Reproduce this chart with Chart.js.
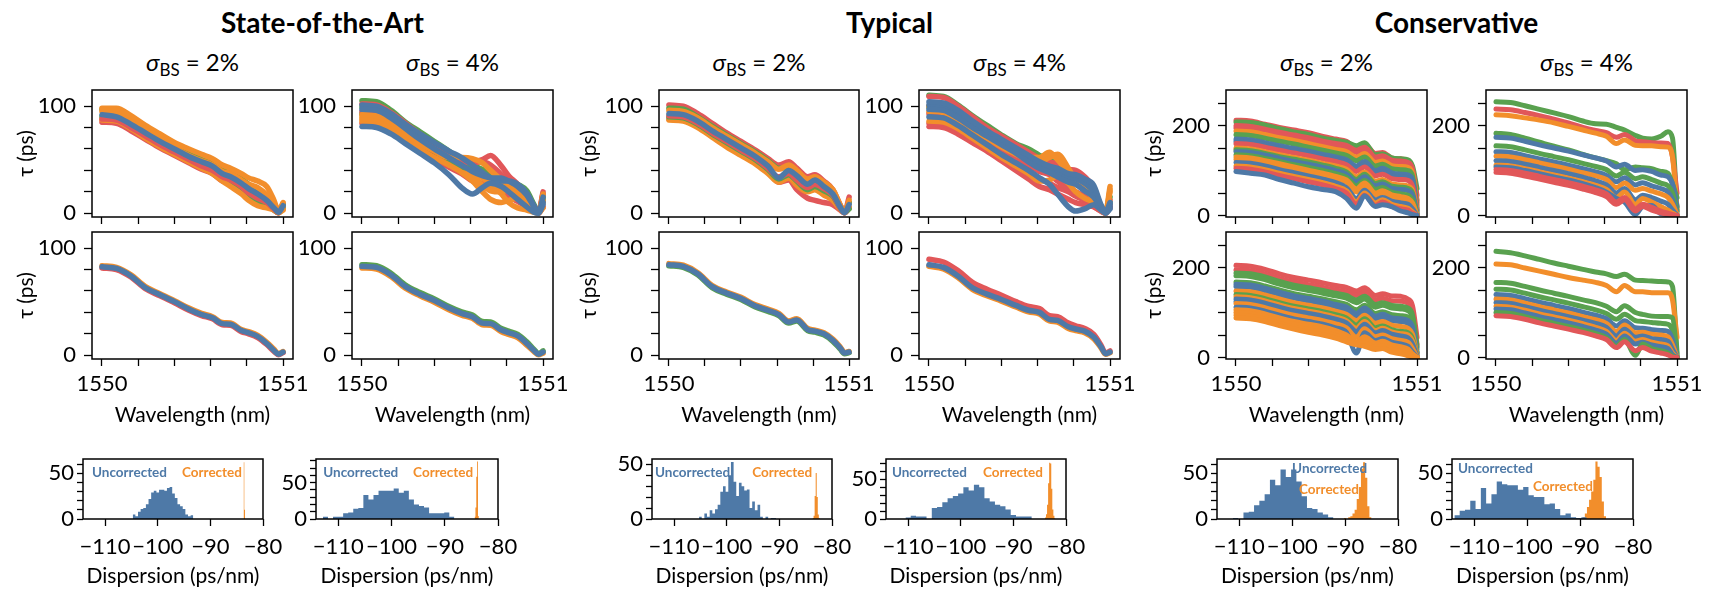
<!DOCTYPE html>
<html><head><meta charset="utf-8">
<script src="https://cdn.jsdelivr.net/npm/chart.js@4.4.1/dist/chart.umd.min.js"></script>
<style>
html,body{margin:0;padding:0;background:#fff;width:1719px;height:589px;overflow:hidden;position:relative;font-family:Lato,"Liberation Sans","DejaVu Sans",sans-serif;color:#000;}
canvas{position:absolute;}
.hdr{position:absolute;width:400px;text-align:center;font-weight:bold;font-size:28px;line-height:34px;top:5px;}
.sig{position:absolute;width:300px;text-align:center;font-size:24px;line-height:30px;top:47px;}
.sig .s{font-size:17px;position:relative;top:5px;}
</style></head><body>
<div class="hdr" style="left:122.5px">State-of-the-Art</div>
<div class="hdr" style="left:689.5px">Typical</div>
<div class="hdr" style="left:1256.5px">Conservative</div>
<div class="sig" style="left:42.5px"><i>σ</i><span class="s">BS</span> = 2%</div>
<div class="sig" style="left:302.5px"><i>σ</i><span class="s">BS</span> = 4%</div>
<div class="sig" style="left:609px"><i>σ</i><span class="s">BS</span> = 2%</div>
<div class="sig" style="left:869.5px"><i>σ</i><span class="s">BS</span> = 4%</div>
<div class="sig" style="left:1176.5px"><i>σ</i><span class="s">BS</span> = 2%</div>
<div class="sig" style="left:1436.5px"><i>σ</i><span class="s">BS</span> = 4%</div>
<script>
// ---------------- DATA ----------------
const wavelength = [1550.00, 1550.08, 1550.16, 1550.24, 1550.32, 1550.40, 1550.48, 1550.55, 1550.61, 1550.665, 1550.71, 1550.77, 1550.81, 1550.86, 1550.91, 1550.95, 1550.975, 1551.00];
const wavelengthTicks = [1550, 1550.2, 1550.4, 1550.6, 1550.8, 1551];
const wavelengthLabels = [1550, 1551];
const tauTicks = [0, 20, 40, 60, 80, 100];
const tauLabels = [0, 100];
const tauTicksCons = [0, 50, 100, 150, 200, 250];
const tauLabelsCons = [0, 200];
const dispTicks = [-110, -100, -90, -80];
const countLabels = [0, 50];

// State-of-the-Art, sigma 2%, uncorrected (listed bottom layer first)
const sota2Unc = [
  [85, 84, 77, 69, 61, 54, 47, 41, 37, 30, 28, 22, 17, 12, 8, 3, 0.5, 6],
  [90, 89, 82, 73, 65, 58, 51, 45, 40, 33, 28, 21, 15, 10, 7, 3, 0.5, 5],
  [87, 86, 79, 70, 62, 55, 48, 42, 37, 30, 25, 18, 12, 7, 5, 3, 0.5, 3],
  [88, 87, 80, 72, 64, 57, 50, 44, 40, 34, 31, 25, 19, 14, 10, 4, 0.5, 9],
  [97, 96, 88, 79, 71, 63, 56, 51, 48, 42, 38, 32, 27, 21, 15, 6, 1, 8],
  [95, 94, 86, 77, 69, 61, 54, 49, 45, 39, 37, 31, 27, 24, 17, 7, 1, 4],
  [98, 98, 91, 82, 74, 66, 60, 55, 51, 45, 42, 37, 33, 30, 25, 12, 2, 10],
  [92, 90, 83, 75, 67, 60, 53, 48, 44, 37, 34, 28, 23, 18, 12, 5, 1, 7]
];
const sota2UncColors = 'RGORGOOB';
const sota2Cor = [
  [81.5, 80, 73, 62, 55.5, 49, 42, 37, 34, 28.5, 28, 22, 20, 16.5, 10, 3.5, 0.5, 2.5],
  [83.5, 82, 75, 64, 57.5, 51, 44, 39, 36, 30.5, 30, 24, 22, 18.5, 12, 5.5, 1.5, 3.5],
  [82.5, 81, 74, 63, 56.5, 50, 43, 38, 35, 29.5, 29, 23, 21, 17.5, 11, 4.5, 1, 3]
];
const sota2CorColors = 'ROB';

// State-of-the-Art, sigma 4%
const sota4Unc = [
  [99, 98, 91, 81, 71, 61, 51, 44, 40, 38, 35, 29, 23, 18, 13, 5, 1, 12],
  [84, 83, 77, 68, 60, 51, 43, 37, 30, 28, 26, 22, 16, 11, 6, 2, 0, 6],
  [86, 85, 78, 69, 61, 53, 46, 41, 38, 33, 27, 18, 10, 5, 3, 1, 0, 10],
  [90, 89, 82, 72, 63, 55, 47, 42, 35, 26, 21, 20, 22, 19, 13, 4, 0.5, 5],
  [105, 104, 96, 85, 76, 67, 58, 50, 45, 41, 40, 35, 31, 27, 21, 8, 1, 16],
  [93, 92, 85, 75, 66, 57, 49, 43, 42, 40, 36, 28, 22, 16, 9, 3, 0.5, 14],
  [88, 87, 80, 70, 60, 52, 45, 38, 30, 20, 13, 10, 12, 14, 10, 3, 0.5, 12],
  [95, 94, 87, 77, 67, 58, 52, 49, 48, 50, 54, 44, 35, 27, 17, 6, 1, 20],
  [102, 101, 94, 84, 74, 65, 56, 49, 47, 48, 45, 36, 28, 22, 14, 5, 1, 18],
  [92, 91, 84, 74, 65, 58, 52, 52, 51, 47, 40, 31, 25, 19, 11, 4, 1, 18],
  [101, 100, 93, 83, 74, 66, 58, 52, 45, 38, 33, 30, 30, 27, 19, 7, 1, 10],
  [97, 96, 89, 79, 69, 60, 52, 45, 39, 35, 33, 33, 30, 25, 17, 6, 0.5, 15],
  [81, 80, 74, 65, 56, 47, 36, 24, 18, 24, 28, 25, 20, 13, 6, 1, 0, 8]
];
const sota4UncColors = 'GROOGGORROBBB';
const sota4Cor = [
  [81.5, 80.5, 73.5, 62.5, 55.5, 49.5, 42.5, 37.5, 34.5, 28.5, 28, 22, 19.5, 16.5, 9.5, 3.5, 0.5, 2],
  [84.5, 83.5, 76.5, 65.5, 58.5, 52.5, 45.5, 40.5, 37.5, 31.5, 31, 25, 22.5, 19.5, 12.5, 5.5, 1.5, 4],
  [83, 82, 75, 64, 57, 51, 44, 39, 36, 30, 29.5, 23.5, 21, 18, 11, 4.5, 1, 3]
];
const sota4CorColors = 'OGB';

// Typical, sigma 2%
const typ2Unc = [
  [88, 87, 81, 72, 64, 56, 48, 39, 29, 31, 22, 14, 12, 10, 8, 3, 0.5, 5],
  [87, 86, 80, 71, 62, 54, 46, 37, 29, 33, 26, 20, 22, 17, 12, 4, 0.5, 6],
  [90, 89, 83, 74, 66, 58, 50, 41, 32, 36, 30, 22, 25, 21, 16, 5, 0.5, 4],
  [91, 90, 84, 75, 67, 59, 51, 42, 34, 37, 31, 24, 27, 23, 17, 5, 0.5, 10],
  [101, 100, 93, 84, 75, 67, 59, 51, 45, 48, 42, 34, 36, 30, 22, 8, 1, 15],
  [98, 97, 90, 81, 73, 65, 57, 49, 42, 43, 38, 29, 31, 27, 21, 7, 1, 10],
  [96, 95, 89, 80, 72, 64, 56, 48, 41, 45, 40, 32, 34, 29, 22, 8, 1, 12],
  [93, 92, 86, 77, 69, 61, 53, 44, 33, 40, 35, 27, 31, 25, 18, 6, 0.5, 8]
];
const typ2UncColors = 'ROGRRGOB';
const typ2Cor = [
  [83.5, 82, 75, 63, 57, 52, 45, 41, 37, 30, 32, 23, 21.5, 19, 13, 6, 1.5, 2.5],
  [85.5, 84, 77, 65, 59, 54, 47, 43, 39, 32, 34, 25, 23.5, 21, 15, 8, 2.5, 3.5],
  [84.5, 83, 76, 64, 58, 53, 46, 42, 38, 31, 33, 24, 22.5, 20, 14, 7, 2, 3]
];
const typ2CorColors = 'GOB';

// Typical, sigma 4%
const typ4Unc = [
  [110, 109, 101, 91, 82, 73, 65, 60, 54, 50, 45, 39, 38, 32, 22, 6, 1, 15],
  [109, 108, 100, 90, 80, 72, 64, 57, 51, 48, 46, 41, 40, 34, 24, 7, 1, 12],
  [81, 80, 74, 66, 58, 49, 40, 32, 25, 22, 18, 13, 10, 8, 6, 2, 0, 5],
  [84, 83, 77, 68, 60, 52, 44, 38, 32, 28, 24, 20, 16, 12, 6, 2, 0, 6],
  [93, 92, 85, 76, 68, 60, 52, 45, 39, 36, 30, 23, 20, 16, 10, 3, 0, 8],
  [99, 98, 91, 82, 73, 65, 57, 50, 45, 42, 38, 33, 30, 25, 18, 5, 0.5, 10],
  [86, 85, 79, 70, 61, 52, 44, 37, 30, 31, 35, 28, 20, 14, 10, 3, 0, 22],
  [95, 94, 87, 78, 70, 62, 55, 50, 48, 52, 55, 42, 30, 22, 14, 4, 0.5, 20],
  [100, 99, 92, 83, 74, 66, 58, 52, 52, 57, 50, 38, 33, 29, 21, 6, 1, 25],
  [90, 89, 82, 73, 64, 55, 47, 40, 33, 27, 18, 6, 2, 4, 8, 3, 0, 4],
  [101, 100, 93, 83, 75, 67, 59, 52, 45, 40, 38, 33, 32, 28, 20, 6, 0.5, 8],
  [97, 96, 89, 80, 72, 64, 56, 48, 42, 38, 34, 29, 27, 21, 15, 5, 0.5, 6],
  [104, 103, 96, 86, 77, 69, 61, 54, 48, 44, 42, 37, 36, 32, 26, 8, 1, 10]
];
const typ4UncColors = 'GRRRRGOOOBBBB';
const typ4Cor = [
  [89.5, 87, 79, 68, 61.5, 56, 50, 45.5, 43.5, 37, 36, 30, 27.5, 25, 19.5, 9.5, 2, 4],
  [83, 80.5, 72.5, 61.5, 55.5, 50.5, 45, 40.5, 38.5, 32, 31, 25, 23, 21, 15.5, 7, 1, 2.5],
  [84.5, 82, 74, 63, 57, 52, 46.5, 42, 40, 33.5, 32.5, 26.5, 24.5, 22.5, 17, 8, 1.5, 3]
];
const typ4CorColors = 'ROB';

// Conservative, sigma 2%
const cons2Unc = [
  [212, 210, 203, 196, 190, 184, 176, 170, 165, 150, 158, 138, 140, 128, 126, 122, 105, 45],
  [208, 207, 201, 193, 186, 180, 172, 167, 163, 155, 162, 135, 137, 128, 126, 124, 110, 60],
  [200, 198, 192, 185, 179, 173, 165, 160, 156, 145, 152, 130, 133, 123, 121, 118, 103, 35],
  [195, 193, 187, 180, 174, 168, 160, 155, 150, 140, 146, 125, 128, 118, 116, 114, 100, 30],
  [188, 186, 180, 173, 167, 160, 153, 147, 142, 130, 138, 118, 121, 111, 109, 107, 94, 25],
  [180, 178, 172, 165, 159, 152, 145, 139, 134, 122, 130, 110, 114, 104, 102, 100, 88, 20],
  [170, 168, 162, 155, 149, 143, 136, 130, 124, 110, 120, 100, 105, 95, 92, 90, 80, 10],
  [165, 163, 157, 150, 144, 138, 131, 125, 118, 104, 114, 94, 98, 88, 86, 84, 72, 12],
  [160, 158, 152, 145, 139, 133, 126, 120, 113, 98, 108, 88, 92, 82, 80, 78, 65, 15],
  [150, 148, 142, 135, 129, 123, 116, 110, 103, 86, 97, 76, 80, 70, 68, 65, 55, 5],
  [146, 144, 138, 131, 125, 119, 112, 105, 97, 80, 92, 71, 75, 65, 63, 60, 50, 4],
  [142, 140, 134, 127, 120, 114, 107, 100, 92, 75, 86, 66, 70, 60, 58, 55, 45, 3],
  [135, 133, 127, 120, 113, 107, 100, 93, 85, 66, 78, 58, 62, 52, 48, 45, 35, 2],
  [130, 128, 122, 115, 108, 101, 94, 87, 79, 59, 72, 50, 55, 46, 42, 38, 28, 1],
  [125, 123, 117, 110, 103, 96, 89, 82, 74, 52, 66, 45, 50, 40, 36, 32, 22, 1],
  [118, 116, 110, 102, 95, 88, 81, 73, 62, 38, 56, 35, 40, 32, 28, 25, 15, 0],
  [110, 108, 102, 94, 87, 80, 73, 65, 55, 30, 50, 28, 35, 25, 20, 16, 8, 0],
  [105, 103, 97, 89, 82, 75, 68, 60, 50, 25, 45, 22, 30, 20, 15, 12, 5, 0],
  [98, 94, 90, 80, 72, 64, 58, 53, 38, 16, 44, 20, 24, 20, 10, 6, 2, 0]
];
const cons2UncColors = 'RGRROGBBROGBGOOBORB';
const cons2Cor = [
  [205, 203, 196, 186, 178, 172, 166, 160, 156, 148, 155, 138, 142, 137, 136, 130, 115, 45],
  [195, 193, 186, 176, 168, 162, 156, 150, 146, 138, 145, 128, 132, 126, 125, 120, 100, 30],
  [188, 186, 179, 169, 161, 155, 149, 143, 138, 128, 136, 118, 122, 116, 114, 110, 94, 25],
  [182, 180, 173, 163, 155, 149, 143, 137, 132, 122, 130, 112, 116, 110, 108, 104, 88, 20],
  [168, 166, 159, 150, 142, 136, 130, 124, 118, 106, 116, 98, 102, 95, 93, 90, 75, 12],
  [163, 161, 154, 145, 137, 131, 125, 118, 112, 98, 110, 92, 96, 88, 86, 82, 68, 10],
  [158, 156, 149, 140, 132, 126, 120, 113, 106, 92, 104, 86, 90, 82, 80, 76, 62, 8],
  [148, 146, 139, 130, 122, 116, 110, 103, 96, 82, 94, 76, 80, 72, 69, 65, 52, 5],
  [140, 138, 131, 122, 114, 108, 102, 95, 88, 72, 86, 66, 70, 62, 58, 55, 42, 3],
  [135, 133, 126, 117, 109, 103, 97, 90, 82, 65, 80, 60, 65, 57, 53, 50, 36, 2],
  [130, 128, 121, 112, 104, 98, 92, 85, 77, 58, 74, 55, 60, 52, 48, 44, 30, 2],
  [124, 122, 115, 106, 98, 92, 86, 79, 71, 50, 68, 50, 55, 47, 43, 38, 25, 1],
  [120, 118, 111, 102, 94, 88, 82, 75, 66, 45, 64, 46, 50, 42, 38, 34, 20, 1],
  [112, 110, 103, 94, 86, 80, 74, 66, 56, 10, 55, 38, 42, 34, 30, 25, 12, 0],
  [106, 104, 97, 88, 80, 74, 68, 60, 50, 35, 46, 32, 36, 28, 24, 19, 8, 0],
  [100, 98, 91, 82, 74, 68, 62, 55, 45, 30, 40, 28, 32, 24, 20, 15, 5, 0],
  [94, 92, 86, 76, 68, 62, 56, 49, 40, 30, 32, 22, 26, 18, 13, 8, 2, 0],
  [88, 86, 80, 71, 63, 56, 50, 43, 35, 28, 25, 18, 20, 12, 8, 4, 1, 0]
];
const cons2CorColors = 'RRGGGBBOGOBBOBOOOO';

// Conservative, sigma 4%
const cons4Unc = [
  [253, 251, 244, 236, 228, 220, 210, 204, 203, 196, 190, 178, 172, 170, 176, 186, 172, 10],
  [237, 235, 229, 222, 214, 206, 196, 189, 184, 174, 180, 166, 164, 162, 161, 160, 130, 50],
  [224, 222, 217, 212, 206, 198, 190, 183, 176, 160, 168, 156, 155, 155, 153, 152, 130, 15],
  [183, 180, 172, 163, 154, 146, 136, 128, 122, 115, 102, 108, 106, 104, 98, 94, 70, 40],
  [174, 172, 165, 157, 150, 143, 135, 128, 121, 108, 114, 100, 102, 98, 90, 86, 70, 20],
  [155, 153, 146, 138, 131, 124, 116, 109, 102, 88, 96, 82, 86, 80, 72, 66, 50, 10],
  [142, 140, 133, 126, 119, 112, 104, 97, 89, 75, 84, 68, 73, 66, 60, 52, 35, 5],
  [132, 130, 124, 117, 110, 103, 95, 88, 80, 62, 72, 56, 60, 54, 48, 40, 25, 3],
  [122, 120, 114, 107, 100, 93, 85, 77, 68, 50, 60, 35, 45, 40, 32, 25, 12, 0],
  [112, 110, 104, 97, 90, 83, 75, 67, 58, 40, 52, 25, 38, 30, 20, 12, 5, 0],
  [108, 106, 100, 93, 86, 79, 71, 62, 52, 38, 30, 2, 20, 22, 4, 2, 0, 0],
  [102, 100, 94, 87, 80, 73, 65, 57, 48, 30, 40, 15, 25, 18, 10, 5, 2, 0],
  [96, 94, 88, 81, 74, 67, 59, 51, 42, 25, 35, 10, 20, 12, 6, 3, 1, 0]
];
const cons4UncColors = 'GROGBGBOBOBRR';
const cons4Cor = [
  [236, 233, 226, 218, 210, 203, 196, 190, 186, 180, 185, 172, 171, 170, 169, 168, 158, 10],
  [208, 206, 199, 192, 185, 178, 172, 167, 160, 146, 160, 146, 146, 144, 144, 144, 128, 45],
  [167, 165, 158, 150, 143, 136, 128, 122, 114, 102, 115, 100, 96, 92, 91, 91, 88, 5],
  [152, 150, 143, 135, 128, 121, 113, 106, 98, 85, 96, 82, 80, 78, 76, 74, 60, 3],
  [140, 138, 131, 123, 116, 109, 101, 94, 86, 70, 82, 66, 65, 62, 60, 58, 40, 2],
  [130, 128, 121, 113, 106, 99, 91, 84, 76, 58, 72, 55, 56, 52, 50, 46, 28, 1],
  [122, 120, 113, 105, 98, 91, 83, 76, 67, 48, 63, 45, 48, 42, 40, 36, 18, 0],
  [114, 112, 105, 97, 90, 83, 75, 67, 58, 38, 54, 36, 40, 34, 30, 26, 10, 0],
  [108, 106, 99, 91, 84, 77, 69, 61, 52, 32, 48, 30, 34, 28, 24, 20, 6, 0],
  [100, 98, 91, 83, 76, 69, 61, 53, 44, 25, 40, 5, 30, 20, 15, 10, 3, 0],
  [93, 91, 85, 77, 70, 63, 56, 48, 40, 22, 35, 15, 22, 14, 10, 6, 1, 0]
];
const cons4CorColors = 'GOGGBOBOBGR';

// Dispersion histograms: counts per bin; bins given as [first edge, bin width]
const histSota2Unc = [5, 3, 8, 11, 12, 16, 22, 29, 31, 29, 32, 32, 31, 34, 35, 28, 23, 16, 14, 11, 5, 3, 4];
const histSota2UncBins = [-104.75, 0.5];
const histSota2Cor = [62, 10];
const histSota2CorBins = [-83.7, 0.15];
const histSota4Unc = [3, 0, 3, 3, 8, 9, 14, 15, 33, 27, 33, 39, 39, 39, 42, 36, 39, 27, 20, 18, 16, 8, 8, 8, 9, 3];
const histSota4UncBins = [-112.9, 0.95];
const histSota4Cor = [3, 16, 58, 79, 4];
const histSota4CorBins = [-84.4, 0.16];
const histTyp2Unc = [2, 0, 5, 2, 8, 5, 9, 13, 25, 30, 25, 40, 52, 34, 21, 33, 30, 26, 27, 10, 16, 8, 13, 2, 0, 2, 0, 1, 1];
const histTyp2UncBins = [-105.26, 0.505];
const histTyp2Cor = [1, 3, 21, 42, 20, 4, 1];
const histTyp2CorBins = [-83.7, 0.2];
const histTyp4Unc = [2, 4, 3, 3, 0, 14, 15, 21, 26, 29, 32, 40, 36, 43, 40, 26, 22, 18, 16, 12, 5, 3, 3, 3];
const histTyp4UncBins = [-110.5, 1.0];
const histTyp4Cor = [2, 6, 18, 45, 71, 70, 38, 12, 4, 1];
const histTyp4CorBins = [-84.0, 0.2];
const histCons2Unc = [1, 0, 7, 8, 15, 20, 27, 43, 37, 54, 46, 54, 41, 25, 12, 11, 7, 5, 2];
const histCons2UncBins = [-111.2, 1.0];
const histCons2Cor = [1, 0, 2, 3, 6, 10, 22, 35, 55, 62, 45, 14, 2];
const histCons2CorBins = [-90.2, 0.4];
const histCons4Unc = [4, 9, 10, 20, 11, 34, 17, 27, 41, 38, 37, 37, 32, 35, 26, 24, 24, 16, 17, 11, 4, 6, 2, 1, 2];
const histCons4UncBins = [-113.75, 1.0];
const histCons4Cor = [2, 6, 13, 21, 30, 43, 63, 57, 46, 19, 3];
const histCons4CorBins = [-89.5, 0.4];
const countTicks = [
  [0, 10, 20, 30, 40, 50, 60],
  [0, 10, 20, 30, 40, 50, 60, 70, 80],
  [0, 10, 20, 30, 40, 50],
  [0, 10, 20, 30, 40, 50, 60, 70],
  [0, 10, 20, 30, 40, 50, 60],
  [0, 10, 20, 30, 40, 50, 60]
];

// ---------------- STYLE / LAYOUT ----------------
const FONT = 'Lato, "Liberation Sans", "DejaVu Sans", sans-serif';
const TICK_SIZE = 22, TITLE_SIZE = 21;
const PAL = {B: '#4e79a7', O: '#f28e2b', R: '#e15759', G: '#59a14f'};
const LAYOUT = {
  colL: [92, 352, 659, 919, 1226, 1486],
  colR: [293, 553, 859, 1120, 1427, 1687],
  histL: [83, 316, 652, 886, 1217, 1452],
  histR: [263, 498, 832, 1066, 1398, 1633],
  row1: [90, 217], row2: [232, 359], hist: [459, 519],
  yAxisW: [78, 70, 82, 70, 84, 70],
  histYMax: [65.6, 82.6, 54.8, 75.6, 65.6, 65.6]
};

const framePlugin = {
  id: 'frame',
  afterDatasetsDraw(chart) {
    const {ctx, chartArea: a} = chart;
    ctx.save();
    ctx.strokeStyle = '#000';
    ctx.lineWidth = 1.5;
    ctx.strokeRect(a.left, a.top, a.right - a.left, a.bottom - a.top);
    ctx.restore();
  }
};
function textPlugin(items) {
  return {
    id: 'axText',
    afterDraw(chart) {
      const {ctx, chartArea: a} = chart;
      ctx.save();
      ctx.font = 'bold 13.5px ' + FONT;
      ctx.textBaseline = 'middle';
      items.forEach(it => {
        ctx.fillStyle = it.color;
        ctx.textAlign = it.align;
        ctx.fillText(it.text, a.left + it.fx * (a.right - a.left), a.top + it.fy * (a.bottom - a.top));
      });
      ctx.restore();
    }
  };
}

function scaleCfg(axis, a, size) {
  return {
    type: 'linear', min: a.min, max: a.max,
    afterBuildTicks: s => { s.ticks = a.ticks.map(v => ({value: v})); },
    afterFit: s => { if (axis === 'x') s.height = size; else s.width = size; },
    ticks: {
      autoSkip: false, maxRotation: 0, minRotation: 0, padding: a.pad, color: '#000',
      font: {family: FONT, size: TICK_SIZE},
      callback: v => a.labels.includes(v) ? String(v).replace('-', '\u2212') : ''
    },
    grid: {display: true, drawOnChartArea: false, drawTicks: true, tickLength: a.tl, tickColor: '#000', tickWidth: 1.3},
    border: {display: false},
    title: {display: !!a.title, text: a.title || '', color: '#000', font: {family: FONT, size: TITLE_SIZE}, padding: {top: 0, bottom: 0}}
  };
}

function makeChart(box, m, datasets, xAxis, yAxis, texts) {
  const W = m.ML + (box.R - box.L) + m.PR;
  const H = m.PT + (box.B - box.T) + m.MB;
  const cv = document.createElement('canvas');
  cv.width = W; cv.height = H;
  Object.assign(cv.style, {left: (box.L - m.ML) + 'px', top: (box.T - m.PT) + 'px', width: W + 'px', height: H + 'px'});
  document.body.appendChild(cv);
  return new Chart(cv.getContext('2d'), {
    type: 'line',
    data: {datasets},
    options: {
      responsive: false, animation: false, events: [], devicePixelRatio: 1,
      layout: {padding: {top: m.PT, right: m.PR, left: 0, bottom: 0}},
      plugins: {legend: {display: false}, tooltip: {enabled: false}},
      scales: {x: scaleCfg('x', xAxis, m.MB), y: scaleCfg('y', yAxis, m.ML)}
    },
    plugins: [framePlugin, textPlugin(texts || [])]
  });
}

function curveSets(curves, colors, width) {
  const ds = curves.map((arr, i) => ({
    data: wavelength.map((x, j) => ({x, y: arr[j]})),
    borderColor: PAL[colors[i]], borderWidth: width, pointRadius: 0, fill: false,
    cubicInterpolationMode: 'monotone', borderCapStyle: 'round', borderJoinStyle: 'round'
  }));
  return ds.reverse(); // first dataset is drawn on top
}
function histSet(counts, bins, color) {
  const pts = counts.map((c, i) => ({x: bins[0] + i * bins[1], y: c}));
  pts.push({x: bins[0] + counts.length * bins[1], y: 0});
  return {data: pts, stepped: true, fill: 'origin', backgroundColor: color,
          borderColor: 'rgba(0,0,0,0)', borderWidth: 0, pointRadius: 0};
}

const panels = [
  {top: [sota2Unc, sota2UncColors], bot: [sota2Cor, sota2CorColors], hist: [histSota2Unc, histSota2UncBins, histSota2Cor, histSota2CorBins],
   txt: [{fx: 0.05, fy: 0.22, align: 'left'}, {fx: 0.883, fy: 0.22, align: 'right'}]},
  {top: [sota4Unc, sota4UncColors], bot: [sota4Cor, sota4CorColors], hist: [histSota4Unc, histSota4UncBins, histSota4Cor, histSota4CorBins],
   txt: [{fx: 0.04, fy: 0.22, align: 'left'}, {fx: 0.863, fy: 0.22, align: 'right'}]},
  {top: [typ2Unc, typ2UncColors], bot: [typ2Cor, typ2CorColors], hist: [histTyp2Unc, histTyp2UncBins, histTyp2Cor, histTyp2CorBins],
   txt: [{fx: 0.017, fy: 0.22, align: 'left'}, {fx: 0.89, fy: 0.22, align: 'right'}]},
  {top: [typ4Unc, typ4UncColors], bot: [typ4Cor, typ4CorColors], hist: [histTyp4Unc, histTyp4UncBins, histTyp4Cor, histTyp4CorBins],
   txt: [{fx: 0.033, fy: 0.22, align: 'left'}, {fx: 0.872, fy: 0.22, align: 'right'}]},
  {top: [cons2Unc, cons2UncColors], bot: [cons2Cor, cons2CorColors], hist: [histCons2Unc, histCons2UncBins, histCons2Cor, histCons2CorBins],
   txt: [{fx: 0.415, fy: 0.167, align: 'left'}, {fx: 0.453, fy: 0.517, align: 'left'}]},
  {top: [cons4Unc, cons4UncColors], bot: [cons4Cor, cons4CorColors], hist: [histCons4Unc, histCons4UncBins, histCons4Cor, histCons4CorBins],
   txt: [{fx: 0.033, fy: 0.167, align: 'left'}, {fx: 0.447, fy: 0.467, align: 'left'}]}
];

panels.forEach((p, c) => {
  const cons = c >= 4;
  const yA = {min: cons ? -3.3 : -3.5, max: cons ? 279 : 115, ticks: cons ? tauTicksCons : tauTicks,
              labels: cons ? tauLabelsCons : tauLabels, pad: 8, tl: 8,
              title: (c % 2 === 0) ? '\u03C4 (ps)' : null};
  const xTop = {min: 1549.945, max: 1551.055, ticks: wavelengthTicks, labels: [], pad: 5, tl: 7};
  const xBot = {min: 1549.945, max: 1551.055, ticks: wavelengthTicks, labels: wavelengthLabels, pad: 5, tl: 7, title: 'Wavelength (nm)'};
  const L = LAYOUT.colL[c], R = LAYOUT.colR[c], ML = LAYOUT.yAxisW[c];
  const lw = cons ? 5 : 5.5;
  makeChart({L, R, T: LAYOUT.row1[0], B: LAYOUT.row1[1]}, {ML, PT: 26, PR: 30, MB: 26},
            curveSets(p.top[0], p.top[1], lw), xTop, yA);
  makeChart({L, R, T: LAYOUT.row2[0], B: LAYOUT.row2[1]}, {ML, PT: 26, PR: 30, MB: 69},
            curveSets(p.bot[0], p.bot[1], lw), xBot, yA);
  const h = p.hist;
  const xH = {min: -114.2, max: -80, ticks: dispTicks, labels: dispTicks, pad: 8, tl: 7, title: 'Dispersion (ps/nm)'};
  const yH = {min: 0, max: LAYOUT.histYMax[c], ticks: countTicks[c], labels: countLabels, pad: 3, tl: 6};
  const texts = [
    Object.assign({text: 'Uncorrected', color: PAL.B}, p.txt[0]),
    Object.assign({text: 'Corrected', color: PAL.O}, p.txt[1])
  ];
  makeChart({L: LAYOUT.histL[c], R: LAYOUT.histR[c], T: LAYOUT.hist[0], B: LAYOUT.hist[1]}, {ML: 60, PT: 26, PR: 35, MB: 70},
            [histSet(h[0], h[1], PAL.B), histSet(h[2], h[3], PAL.O)], xH, yH, texts);
});
</script>
</body></html>
